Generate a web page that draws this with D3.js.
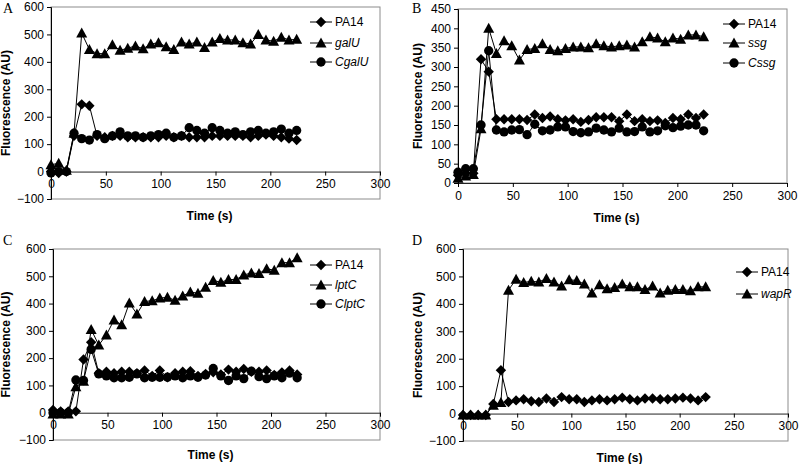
<!DOCTYPE html>
<html><head><meta charset="utf-8">
<script src="https://cdn.jsdelivr.net/npm/d3@7"></script>
<style>body{margin:0;background:#fff}svg{display:block}text{font-family:"Liberation Sans",Arial,sans-serif}</style>
</head><body><svg id="c" width="800" height="464"></svg>
<script>
const times = [0,7,14,21,28,35,42,49,56,63,70,77,84,91,98,105,112,119,126,133,140,147,154,161,168,175,182,189,196,203,210,217,224];

const xTicks = [0,50,100,150,200,250,300];
const yTicksA = [-100,0,100,200,300,400,500,600];
const yTicksB = [0,50,100,150,200,250,300,350,400,450];

const namesA = ["PA14","galU","CgalU"];
const a_pa14 = [0,-5,0,130,245,240,130,125,130,130,125,125,125,125,125,130,125,130,125,125,125,130,130,130,130,130,125,130,135,130,125,120,115];
const a_galU = [25,30,5,140,505,445,430,430,462,442,450,458,448,465,470,455,445,472,465,472,452,472,485,480,480,470,465,500,480,475,490,480,482];
const a_cgalU = [-5,0,0,140,120,115,135,120,130,145,130,130,125,130,135,140,125,130,160,150,140,160,150,140,145,135,145,150,140,145,155,140,150];

const namesB = ["PA14","ssg","Cssg"];
const b_pa14 = [20,25,25,320,288,165,165,165,165,163,177,168,172,165,162,165,158,163,170,170,170,160,177,160,165,160,162,155,168,165,177,168,177];
const b_ssg = [12,18,22,140,400,335,368,355,318,345,348,360,345,342,348,352,352,350,360,355,352,355,357,352,365,378,375,365,375,372,383,383,378];
const b_cssg = [28,37,37,150,342,137,132,137,138,125,152,135,137,145,145,133,130,132,142,137,132,142,132,133,145,132,135,148,143,147,150,150,135];

const namesC = ["PA14","lptC","ClptC"];
const c_pa14 = [10,5,5,5,195,258,145,150,145,150,150,145,155,135,155,130,145,150,152,135,142,148,140,158,150,160,150,150,155,138,148,155,140];
const c_lptC = [-5,-5,-5,95,115,305,248,285,340,322,402,362,408,410,420,423,412,428,442,438,460,485,478,488,488,505,512,510,528,522,550,550,568];
const c_clptC = [0,0,0,120,118,232,142,135,128,128,130,142,128,130,130,130,135,128,135,130,138,162,135,118,135,125,152,132,125,135,128,145,128];

const namesD = ["PA14","wapR"];
const d_pa14 = [-5,-5,-5,-5,35,158,42,48,52,45,42,55,42,60,52,52,42,48,52,48,52,58,52,48,55,55,52,52,55,58,55,48,60];
const d_wapR = [-5,-5,-5,-5,30,40,450,490,478,482,480,492,480,465,488,485,472,440,470,455,460,472,462,462,452,465,440,450,452,452,448,462,462];

const svg = d3.select("#c");

function marker(type){
  if(type==="diamond") return "M0,-5.2L5.2,0L0,5.2L-5.2,0Z";
  if(type==="triangle") return "M0,-5.5L5.5,4.5L-5.5,4.5Z";
  return d3.symbol(d3.symbolCircle, 68)();
}
const types = ["diamond","triangle","circle"];

function panel(cfg){
  const x = d3.scaleLinear().domain([0,300]).range([cfg.x0,cfg.x1]);
  const y = d3.scaleLinear().domain(cfg.ydom).range([cfg.yb,cfg.yt]);
  const g = svg.append("g");
  g.append("rect").attr("x",cfg.x0).attr("y",cfg.yt).attr("width",cfg.x1-cfg.x0).attr("height",cfg.yb-cfg.yt)
    .attr("fill","none").attr("stroke","#8c8c8c").attr("stroke-width",1);
  const ya = g.append("g").attr("transform",`translate(${cfg.x0},0)`)
    .call(d3.axisLeft(y).tickValues(cfg.yticks).tickSize(4).tickPadding(3).tickFormat(d3.format("d")));
  ya.select(".domain").attr("stroke","#000");
  ya.selectAll("text").attr("font-size",12).attr("font-family","Liberation Sans, Arial, sans-serif").attr("fill","#000");
  const xa = g.append("g").attr("transform",`translate(0,${y(0)})`)
    .call(d3.axisBottom(x).tickValues(xTicks).tickSize(4).tickPadding(4).tickSizeOuter(0));
  xa.select(".domain").attr("stroke","#222");
  xa.selectAll("text").attr("font-size",12).attr("font-family","Liberation Sans, Arial, sans-serif").attr("fill","#000");
  cfg.series.forEach((s,i)=>{
    const line = d3.line().x((d,j)=>x(times[j])).y(d=>y(d));
    g.append("path").attr("d",line(s)).attr("fill","none").attr("stroke","#000").attr("stroke-width",1);
  });
  cfg.series.forEach((s,i)=>{
    g.selectAll(null).data(s).enter().append("path")
      .attr("d",marker(types[i]))
      .attr("transform",(d,j)=>`translate(${x(times[j])},${y(d)})`)
      .attr("fill","#000");
  });
  g.append("text").attr("x",(cfg.x0+cfg.x1)/2 - 6).attr("y",cfg.xtY).attr("text-anchor","middle")
    .attr("font-size",12).attr("font-weight","bold").text("Time (s)");
  g.append("text").attr("transform",`translate(${cfg.ytX},${(cfg.yt+cfg.yb)/2}) rotate(-90)`)
    .attr("text-anchor","middle").attr("font-size",12).attr("font-weight","bold").text("Fluorescence (AU)");
  g.append("text").attr("x",cfg.lx).attr("y",cfg.ly)
    .style("font-family","'Liberation Serif', 'Times New Roman', serif").attr("font-size",14).text(cfg.letter);
  cfg.names.forEach((n,i)=>{
    const ly = cfg.legY[i];
    g.append("line").attr("x1",cfg.legX-11).attr("x2",cfg.legX+11).attr("y1",ly).attr("y2",ly).attr("stroke","#000");
    g.append("path").attr("d",marker(types[i])).attr("transform",`translate(${cfg.legX},${ly})`).attr("fill","#000");
    g.append("text").attr("x",cfg.legX+14).attr("y",ly+4).attr("font-size",12)
      .attr("font-style",i===0?"normal":"italic").text(n);
  });
}

panel({letter:"A",lx:3,ly:13,x0:51,x1:380,yt:7,yb:199,ydom:[-100,600],yticks:yTicksA,
  series:[a_pa14,a_galU,a_cgalU],names:namesA,legX:321,legY:[22,43,62],xtY:220,ytX:10});
panel({letter:"B",lx:412,ly:13,x0:458,x1:787,yt:9,yb:183,ydom:[0,450],yticks:yTicksB,
  series:[b_pa14,b_ssg,b_cssg],names:namesB,legX:734,legY:[24,43,63],xtY:222,ytX:422});
panel({letter:"C",lx:3,ly:245,x0:53,x1:380,yt:249,yb:440,ydom:[-100,600],yticks:yTicksA,
  series:[c_pa14,c_lptC,c_clptC],names:namesC,legX:321,legY:[265,285,304],xtY:459,ytX:10});
panel({letter:"D",lx:412,ly:245,x0:463,x1:788,yt:249,yb:441,ydom:[-100,600],yticks:yTicksA,
  series:[d_pa14,d_wapR],names:namesD,legX:747,legY:[272,294],xtY:462,ytX:422});
</script></body></html>
